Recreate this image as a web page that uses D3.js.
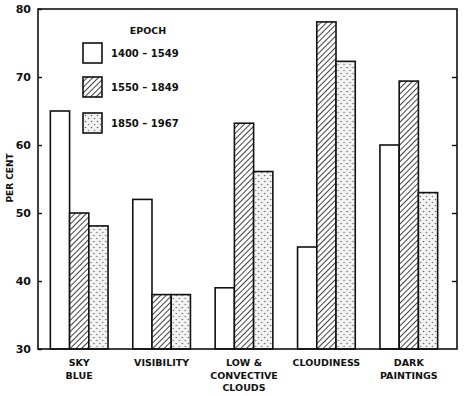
<!DOCTYPE html>
<html>
<head>
<meta charset="utf-8">
<script src="https://cdn.jsdelivr.net/npm/d3@7"></script>
<style>
  body { margin: 0; background: #fff; }
  svg text { font-family: "DejaVu Sans", sans-serif; font-weight: bold; fill: #111; }
</style>
</head>
<body>
<div id="chart"></div>
<script>
// data
const categories = [["SKY", "BLUE"], ["VISIBILITY"], ["LOW &", "CONVECTIVE", "CLOUDS"], ["CLOUDINESS"], ["DARK", "PAINTINGS"]];
const epochs = ["1400 – 1549", "1550 – 1849", "1850 – 1967"];
const values1400 = [65, 52, 39, 45, 60];
const values1550 = [50, 38, 63.2, 78.1, 69.4];
const values1850 = [48.1, 38, 56.1, 72.3, 53];
const yTicks = [30, 40, 50, 60, 70, 80];

const W = 466, H = 396;
const plotL = 38, plotR = 457, plotT = 9, plotB = 349;

const svg = d3.select("#chart").append("svg").attr("width", W).attr("height", H);

// patterns
const defs = svg.append("defs");
const hatch = defs.append("pattern").attr("id", "hatch").attr("patternUnits", "userSpaceOnUse")
  .attr("width", 4).attr("height", 4).attr("patternTransform", "rotate(45)");
hatch.append("rect").attr("width", 4).attr("height", 4).attr("fill", "#fff");
hatch.append("line").attr("x1", 0).attr("y1", 0).attr("x2", 0).attr("y2", 4)
  .attr("stroke", "#111").attr("stroke-width", 1.6);

const dots = defs.append("pattern").attr("id", "dots").attr("patternUnits", "userSpaceOnUse")
  .attr("width", 6).attr("height", 6);
dots.append("rect").attr("width", 6).attr("height", 6).attr("fill", "#f4f4f4");
dots.append("circle").attr("cx", 1.5).attr("cy", 1.5).attr("r", 0.8).attr("fill", "#666");
dots.append("circle").attr("cx", 4.5).attr("cy", 4.5).attr("r", 0.8).attr("fill", "#777");

const fills = ["#fff", "url(#hatch)", "url(#dots)"];
const series = [values1400, values1550, values1850];

const x0 = d3.scaleBand().domain(d3.range(categories.length)).range([plotL, 450])
  .paddingInner(0.3).paddingOuter(0.15);
const x1 = d3.scaleBand().domain(d3.range(3)).range([0, x0.bandwidth()]);
const y = d3.scaleLinear().domain([30, 80]).range([plotB, plotT]);

// bars
const groups = svg.append("g").selectAll("g").data(categories).enter().append("g")
  .attr("transform", (d, i) => `translate(${x0(i)},0)`);
groups.selectAll("rect").data((d, i) => series.map((s, k) => ({ k, v: s[i] }))).enter().append("rect")
  .attr("x", d => x1(d.k))
  .attr("y", d => y(d.v))
  .attr("width", x1.bandwidth())
  .attr("height", d => plotB - y(d.v))
  .attr("fill", d => fills[d.k])
  .attr("stroke", "#111").attr("stroke-width", 1.6);

// frame
svg.append("rect").attr("x", plotL).attr("y", plotT).attr("width", plotR - plotL).attr("height", plotB - plotT)
  .attr("fill", "none").attr("stroke", "#111").attr("stroke-width", 1.6);

// left axis (inward ticks)
const yAxisL = svg.append("g").attr("transform", `translate(${plotL},0)`)
  .call(d3.axisRight(y).tickValues(yTicks).tickSize(4).tickFormat(""));
yAxisL.select(".domain").remove();
yAxisL.selectAll("line").attr("stroke", "#111").attr("stroke-width", 1.4);
svg.append("g").selectAll("text").data(yTicks).enter().append("text")
  .attr("x", plotL - 7).attr("y", d => y(d) + 4).attr("text-anchor", "end")
  .attr("font-size", 11).text(d => d);

// right axis (inward ticks)
const yAxisR = svg.append("g").attr("transform", `translate(${plotR},0)`)
  .call(d3.axisLeft(y).tickValues([40, 50, 60, 70]).tickSize(5).tickFormat(""));
yAxisR.select(".domain").remove();
yAxisR.selectAll("line").attr("stroke", "#111").attr("stroke-width", 1.4);

// y label
svg.append("text").attr("transform", `translate(13,178) rotate(-90)`)
  .attr("text-anchor", "middle").attr("font-size", 9).text("PER CENT");

// category labels
const catLabels = svg.append("g").selectAll("text").data(categories).enter().append("text")
  .attr("text-anchor", "middle").attr("font-size", 9.5)
  .attr("x", (d, i) => x0(i) + x0.bandwidth() / 2);
catLabels.selectAll("tspan").data(d => d).enter().append("tspan")
  .attr("x", function () { return this.parentNode.getAttribute("x"); })
  .attr("y", (d, j) => 366 + j * 12.5)
  .text(d => d);

// legend
const legend = svg.append("g");
legend.append("text").attr("x", 148).attr("y", 34).attr("text-anchor", "middle")
  .attr("font-size", 9.5).text("EPOCH");
const legendY = [43, 77, 113];
epochs.forEach((e, k) => {
  legend.append("rect").attr("x", 83).attr("y", legendY[k]).attr("width", 19).attr("height", 20)
    .attr("fill", fills[k]).attr("stroke", "#111").attr("stroke-width", 1.6);
  legend.append("text").attr("x", 111).attr("y", legendY[k] + 14).attr("font-size", 10).text(e);
});
</script>
</body>
</html>
